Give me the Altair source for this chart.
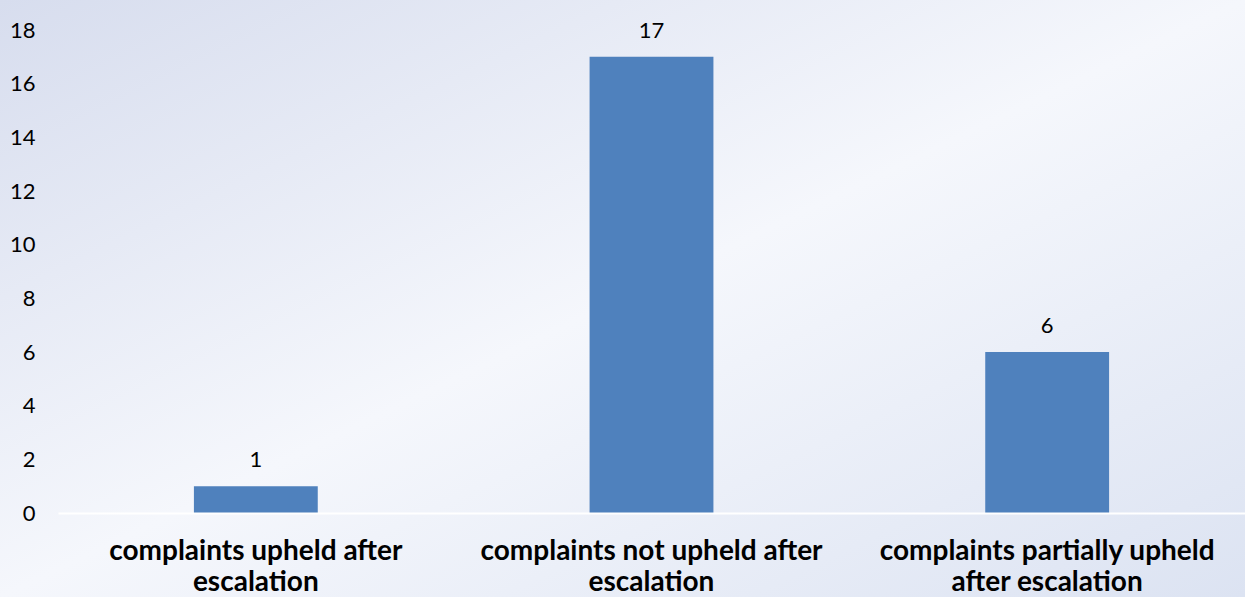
import altair as alt
import pandas as pd

categories = [
    "complaints upheld after escalation",
    "complaints not upheld after escalation",
    "complaints partially upheld after escalation",
]
label_lines = [
    ["complaints upheld after", "escalation"],
    ["complaints not upheld after", "escalation"],
    ["complaints partially upheld", "after escalation"],
]
values = [1, 17, 6]
y_ticks = [0, 2, 4, 6, 8, 10, 12, 14, 16, 18]

df = pd.DataFrame({"category": categories, "value": values})

W, H = 1187, 483
PL, PT = 58, 30
PB = 597 - PT - H

label_expr = " : ".join(
    f"datum.label == '{c}' ? ['{l[0]}', '{l[1]}']" for c, l in zip(categories, label_lines)
) + " : datum.label"

x_enc = alt.X(
    "category:N",
    sort=categories,
    scale=alt.Scale(paddingInner=0.687, paddingOuter=0.3435),
    axis=alt.Axis(
        title=None,
        labelAngle=0,
        labelFont="Lato",
        labelFontSize=28,
        labelFontWeight="bold",
        labelColor="#000000",
        labelLineHeight=31,
        labelPadding=24,
        labelLimit=600,
        labelExpr=label_expr,
        ticks=False,
        domainColor="#FFFFFF",
        domainWidth=2,
        grid=False,
        zindex=1,
    ),
)
y_enc = alt.Y(
    "value:Q",
    scale=alt.Scale(domain=[0, 18], nice=False),
    axis=alt.Axis(
        title=None,
        values=y_ticks,
        labelFont="Lato",
        labelFontSize=22,
        labelColor="#000000",
        labelPadding=23,
        ticks=False,
        domain=False,
        grid=False,
        zindex=1,
    ),
)

bg = alt.Chart(pd.DataFrame({"a": [0]})).mark_rect(
    color=alt.Gradient(
        gradient="linear",
        x1=0, y1=0, x2=1, y2=1,
        stops=[
            alt.GradientStop(offset=0, color="#D7DDEE"),
            alt.GradientStop(offset=0.5, color="#F5F7FC"),
            alt.GradientStop(offset=1, color="#DCE3F2"),
        ],
    )
).encode(
    x=alt.value(-PL), x2=alt.value(1245 - PL), y=alt.value(-PT), y2=alt.value(597 - PT)
)

bars = alt.Chart(df).mark_bar(color="#4F81BD").encode(x=x_enc, y=y_enc)
texts = alt.Chart(df).mark_text(
    dy=-26, font="Lato", fontSize=22, color="#000000"
).encode(x=alt.X("category:N", sort=categories), y="value:Q", text="value:Q")

chart = alt.layer(bg, bars, texts).properties(
    width=W, height=H,
    padding={"left": PL, "top": PT, "right": 0, "bottom": PB},
    autosize=alt.AutoSizeParams(type="none"),
    background="#EEF1F8",
).configure_view(stroke=None)

chart.save("out.html", embed_options={"renderer": "svg", "actions": False})
